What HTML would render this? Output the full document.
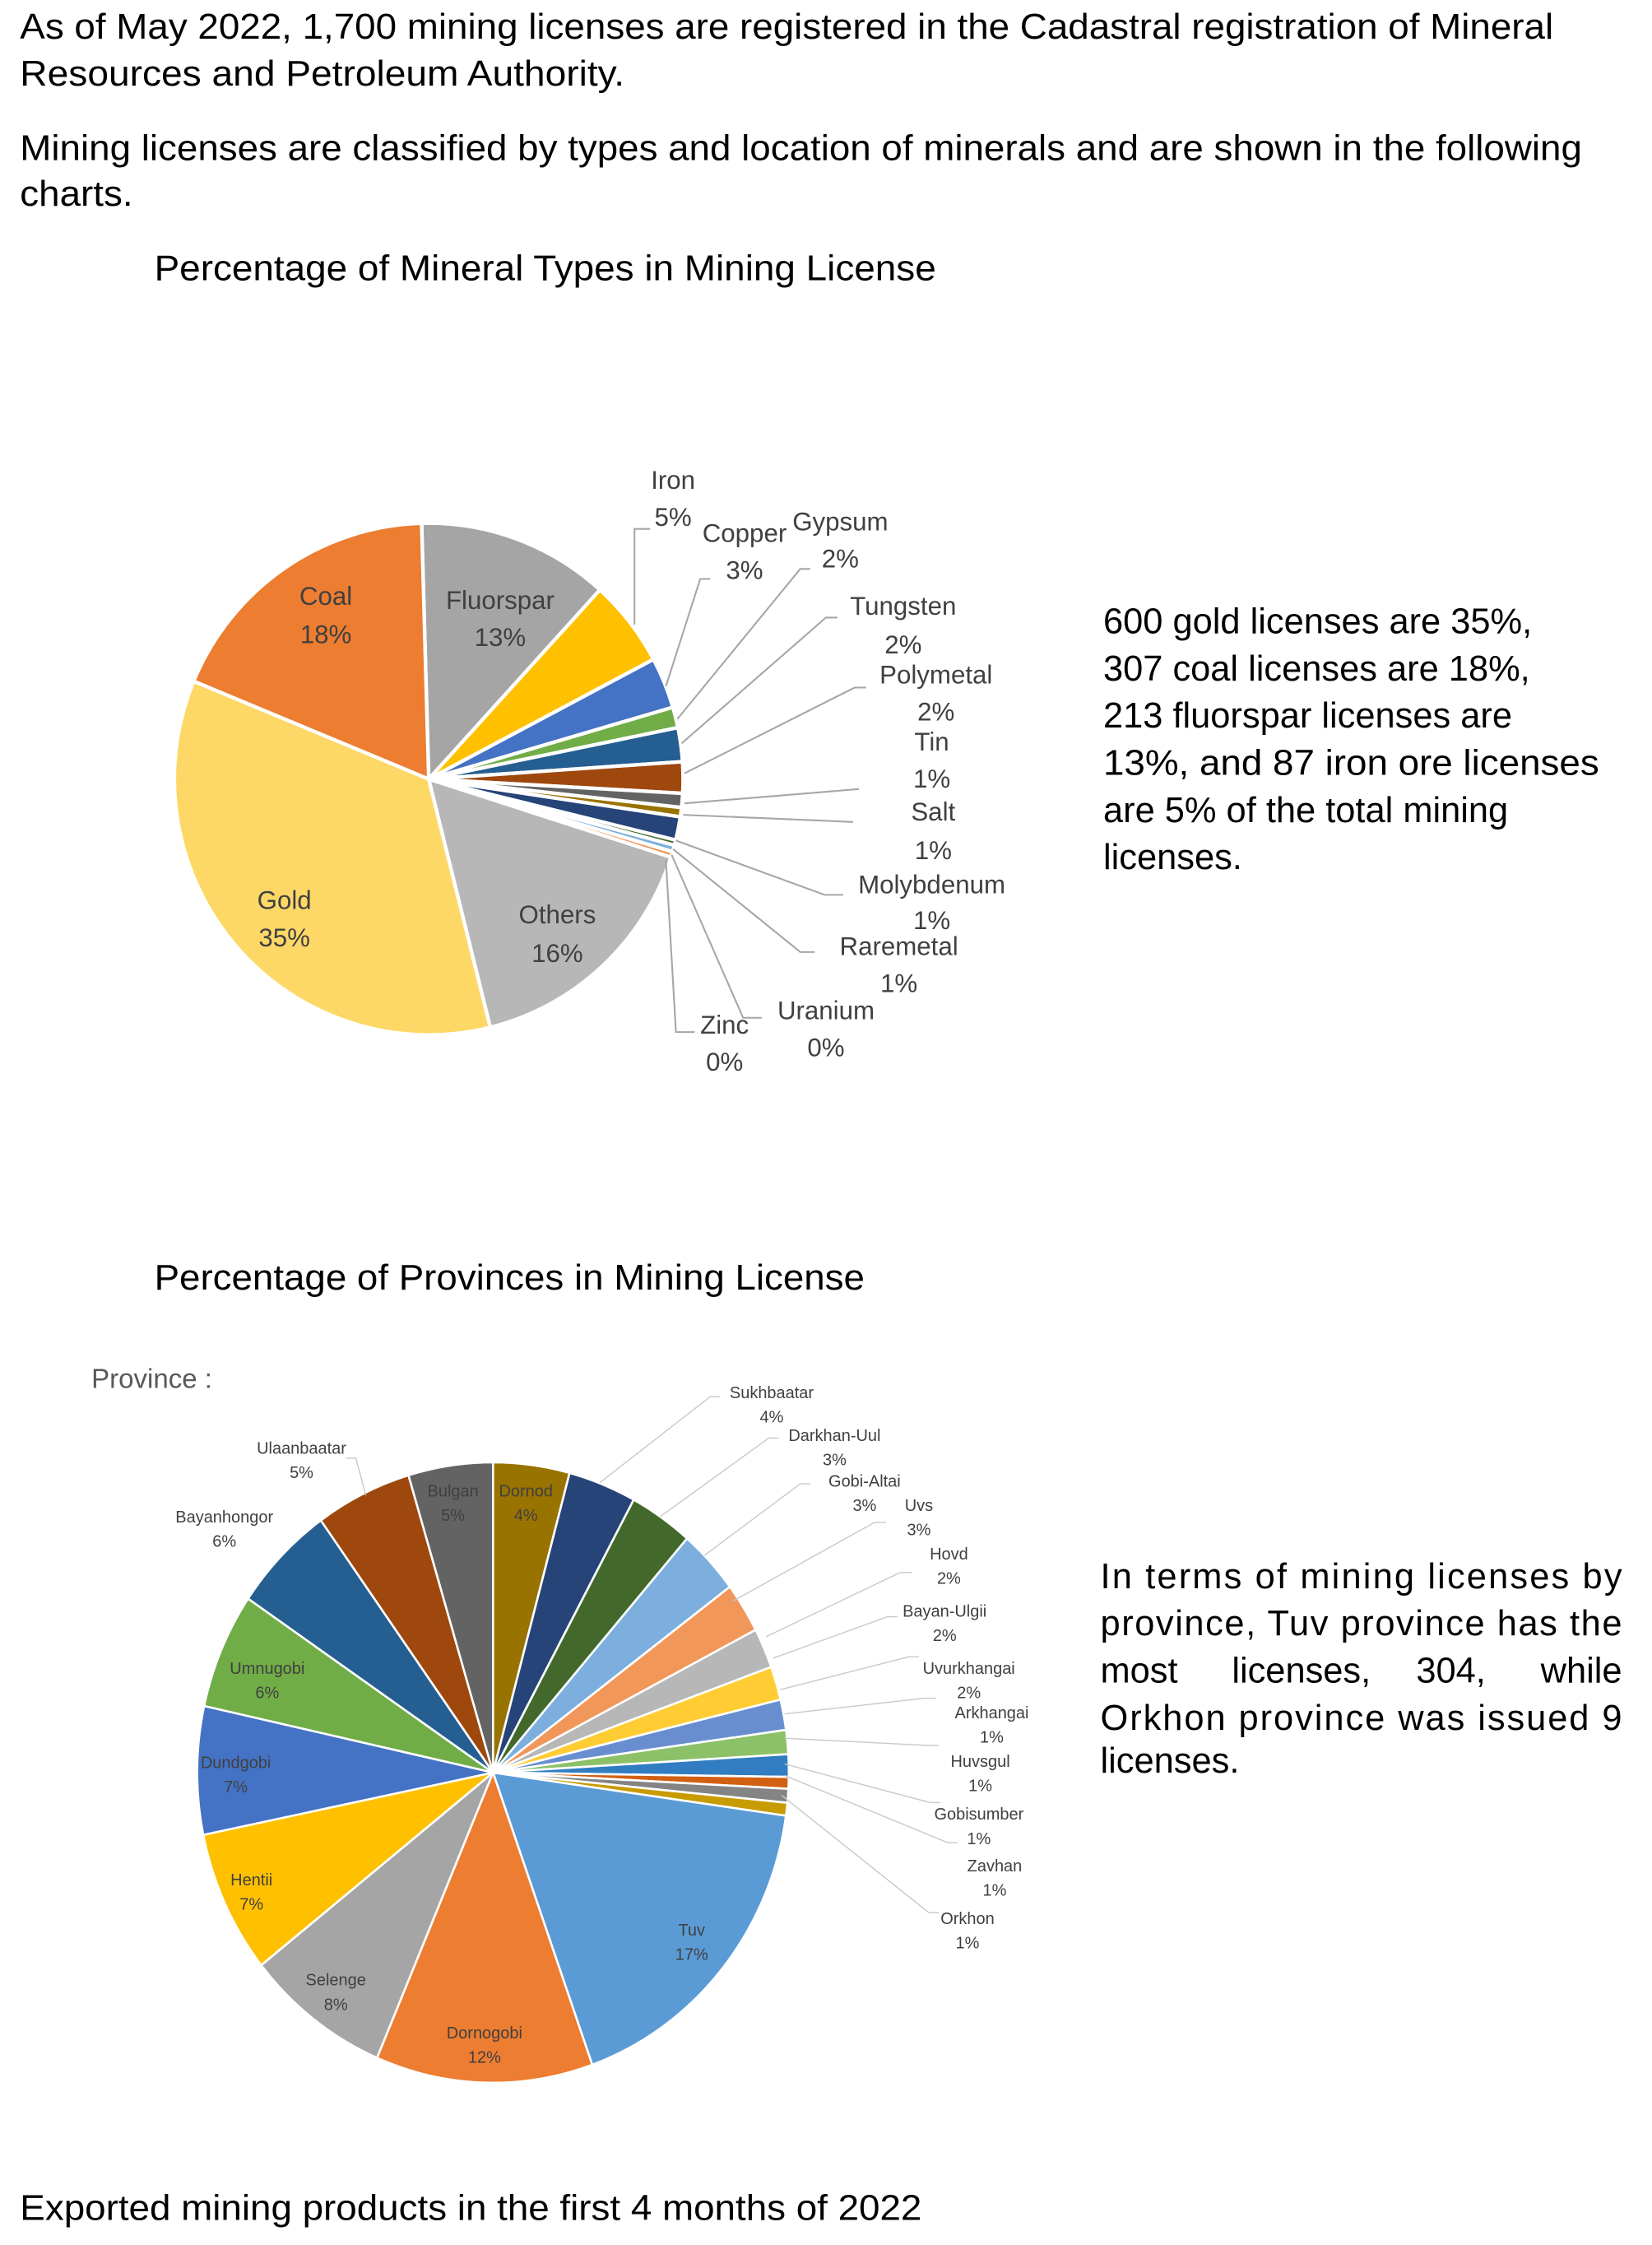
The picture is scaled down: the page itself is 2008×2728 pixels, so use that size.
<!DOCTYPE html>
<html><head><meta charset="utf-8"><style>html,body{margin:0;padding:0;background:#fff}svg{display:block}</style></head>
<body>
<svg id="s" xmlns="http://www.w3.org/2000/svg" width="2008" height="2728" viewBox="0 0 1156 1570.5">
<rect width="1156" height="1571" fill="#fff"/>
<g font-family="Liberation Sans, Arial, sans-serif" font-size="25" fill="#000">
<text x="14" y="27" textLength="1073" lengthAdjust="spacingAndGlyphs">As of May 2022, 1,700 mining licenses are registered in the Cadastral registration of Mineral</text>
<text x="14" y="60" textLength="423" lengthAdjust="spacingAndGlyphs">Resources and Petroleum Authority.</text>
<text x="14" y="112" textLength="1093" lengthAdjust="spacingAndGlyphs">Mining licenses are classified by types and location of minerals and are shown in the following</text>
<text x="14" y="144" textLength="79" lengthAdjust="spacingAndGlyphs">charts.</text>
<text x="108" y="196" textLength="547" lengthAdjust="spacingAndGlyphs">Percentage of Mineral Types in Mining License</text>
<text x="772" y="443">600 gold licenses are 35%,</text>
<text x="772" y="476">307 coal licenses are 18%,</text>
<text x="772" y="509">213 fluorspar licenses are</text>
<text x="772" y="542" textLength="347" lengthAdjust="spacingAndGlyphs">13%, and 87 iron ore licenses</text>
<text x="772" y="575">are 5% of the total mining</text>
<text x="772" y="608">licenses.</text>
<text x="108" y="902" textLength="497" lengthAdjust="spacingAndGlyphs">Percentage of Provinces in Mining License</text>
<text x="770" y="1111" textLength="365" lengthAdjust="spacing">In terms of mining licenses by</text>
<text x="770" y="1144" textLength="365" lengthAdjust="spacing">province, Tuv province has the</text>
<text x="770" y="1177">most</text>
<text x="862" y="1177">licenses,</text>
<text x="991" y="1177">304,</text>
<text x="1135" y="1177" text-anchor="end">while</text>
<text x="770" y="1210" textLength="365" lengthAdjust="spacing">Orkhon province was issued 9</text>
<text x="770" y="1240">licenses.</text>
<text x="14" y="1553" textLength="631" lengthAdjust="spacingAndGlyphs">Exported mining products in the first 4 months of 2022</text>
<text x="64" y="971" font-size="19" fill="#595959">Province :</text>
</g>
<g id="p1"></g>
<g id="p2"></g>
<g fill="none" stroke="#a6a6a6" stroke-width="1.2">
<polyline points="444,437 444,370 455,370"/>
<polyline points="466,480 490,405 497,405"/>
<polyline points="474,503 560,398 567,398"/>
<polyline points="477,520 578,432 586,432"/>
<polyline points="479,541 598,481 606,481"/>
<polyline points="479,562 601,552"/>
<polyline points="478,570 597,575"/>
<polyline points="473,588 577,626 590,626"/>
<polyline points="471,594 560,666 570,666"/>
<polyline points="470,598 520,712 533,712"/>
<polyline points="466,602 473,722 486,722"/>
</g>
<g fill="none" stroke="#c8c8c8" stroke-width="0.8">
<polyline points="420,1037 497,977 504,977"/>
<polyline points="462,1061 538,1006 545,1006"/>
<polyline points="493,1088 560,1038 567,1038"/>
<polyline points="513,1120 612,1065 620,1065"/>
<polyline points="536,1145 630,1100 638,1100"/>
<polyline points="541,1160 621,1131 628,1131"/>
<polyline points="546,1182 636,1159 643,1159"/>
<polyline points="549,1199 647,1188 655,1188"/>
<polyline points="549,1216 649,1221 657,1221"/>
<polyline points="549,1234 651,1261 658,1261"/>
<polyline points="549,1242 663,1289 670,1289"/>
<polyline points="547,1256 650,1338 657,1338"/>
<polyline points="256,1046 249,1020 242,1020"/>
</g>
<g font-family="Liberation Sans, Arial, sans-serif" font-size="18" fill="#404040" text-anchor="middle">
<text x="228" y="423">Coal</text><text x="228" y="450">18%</text>
<text x="350" y="426">Fluorspar</text><text x="350" y="452">13%</text>
<text x="199" y="636">Gold</text><text x="199" y="662">35%</text>
<text x="390" y="646">Others</text><text x="390" y="673">16%</text>
<text x="471" y="342">Iron</text><text x="471" y="368">5%</text>
<text x="521" y="379">Copper</text><text x="521" y="405">3%</text>
<text x="588" y="371">Gypsum</text><text x="588" y="397">2%</text>
<text x="632" y="430">Tungsten</text><text x="632" y="457">2%</text>
<text x="655" y="478">Polymetal</text><text x="655" y="504">2%</text>
<text x="652" y="525">Tin</text><text x="652" y="551">1%</text>
<text x="653" y="574">Salt</text><text x="653" y="601">1%</text>
<text x="652" y="625">Molybdenum</text><text x="652" y="650">1%</text>
<text x="629" y="668">Raremetal</text><text x="629" y="694">1%</text>
<text x="578" y="713">Uranium</text><text x="578" y="739">0%</text>
<text x="507" y="723">Zinc</text><text x="507" y="749">0%</text>
</g>
<g font-family="Liberation Sans, Arial, sans-serif" font-size="11.5" fill="#404040" text-anchor="middle">
<text x="540" y="978">Sukhbaatar</text><text x="540" y="995">4%</text>
<text x="584" y="1008">Darkhan-Uul</text><text x="584" y="1025">3%</text>
<text x="605" y="1040">Gobi-Altai</text><text x="605" y="1057">3%</text>
<text x="643" y="1057">Uvs</text><text x="643" y="1074">3%</text>
<text x="664" y="1091">Hovd</text><text x="664" y="1108">2%</text>
<text x="661" y="1131">Bayan-Ulgii</text><text x="661" y="1148">2%</text>
<text x="678" y="1171">Uvurkhangai</text><text x="678" y="1188">2%</text>
<text x="694" y="1202">Arkhangai</text><text x="694" y="1219">1%</text>
<text x="686" y="1236">Huvsgul</text><text x="686" y="1253">1%</text>
<text x="685" y="1273">Gobisumber</text><text x="685" y="1290">1%</text>
<text x="696" y="1309">Zavhan</text><text x="696" y="1326">1%</text>
<text x="677" y="1346">Orkhon</text><text x="677" y="1363">1%</text>
<text x="211" y="1017">Ulaanbaatar</text><text x="211" y="1034">5%</text>
<text x="157" y="1065">Bayanhongor</text><text x="157" y="1082">6%</text>
<text x="317" y="1047">Bulgan</text><text x="317" y="1064">5%</text>
<text x="368" y="1047">Dornod</text><text x="368" y="1064">4%</text>
<text x="187" y="1171">Umnugobi</text><text x="187" y="1188">6%</text>
<text x="165" y="1237">Dundgobi</text><text x="165" y="1254">7%</text>
<text x="176" y="1319">Hentii</text><text x="176" y="1336">7%</text>
<text x="235" y="1389">Selenge</text><text x="235" y="1406">8%</text>
<text x="339" y="1426">Dornogobi</text><text x="339" y="1443">12%</text>
<text x="484" y="1354">Tuv</text><text x="484" y="1371">17%</text>
</g>
</svg>
<script>
function pie(id,cx,cy,rx,ry,data,sw){
  var g=document.getElementById(id),h="";
  for(var i=0;i<data.length;i++){
    var a0=data[i][0]*Math.PI/180,a1=data[i][1]*Math.PI/180;
    var x0=cx+rx*Math.sin(a0),y0=cy-ry*Math.cos(a0),x1=cx+rx*Math.sin(a1),y1=cy-ry*Math.cos(a1);
    var lg=(data[i][1]-data[i][0])>180?1:0;
    h+='<path d="M'+cx+','+cy+' L'+x0.toFixed(2)+','+y0.toFixed(2)+' A'+rx+','+ry+' 0 '+lg+' 1 '+x1.toFixed(2)+','+y1.toFixed(2)+' Z" fill="'+data[i][2]+'" stroke="#fff" stroke-width="'+sw+'" stroke-linejoin="round"/>';
  }
  g.innerHTML=h;
}
pie("p1",300,545,178,179,[
[-1.6,42.3,"#a5a5a5"],[42.3,62.1,"#ffc000"],[62.1,73.7,"#4472c4"],[73.7,78.4,"#70ad47"],
[78.4,86.1,"#255e91"],[86.1,93.2,"#9e480e"],[93.2,96.4,"#636363"],[96.4,98.5,"#997300"],
[98.5,103.8,"#264478"],[103.8,105,"#43682b"],[105,106.5,"#7cafdd"],[106.5,107.8,"#f1975a"],
[107.8,166,"#b7b7b7"],[166,292.5,"#fdd867"],[292.5,358.4,"#ed7d31"]],2.5);
pie("p2",345,1240,207,217,[
[0,15,"#997300"],[15,28.4,"#264478"],[28.4,41,"#43682b"],[41,53.2,"#7cafdd"],[53.2,62.6,"#f1975a"],
[62.6,70.1,"#b7b7b7"],[70.1,76.4,"#ffcd33"],[76.4,82.1,"#698ed0"],[82.1,86.6,"#8cc168"],
[86.6,90.8,"#327dc2"],[90.8,93,"#d26012"],[93,95.6,"#848484"],[95.6,98,"#c89b00"],
[98,160.4,"#5b9bd5"],[160.4,203.1,"#ed7d31"],[203.1,231.6,"#a5a5a5"],[231.6,258.4,"#ffc000"],
[258.4,282.4,"#4472c4"],[282.4,304.1,"#70ad47"],[304.1,324.4,"#255e91"],[324.4,343.4,"#9e480e"],
[343.4,360,"#636363"]],1.5);
</script>
</body></html>
